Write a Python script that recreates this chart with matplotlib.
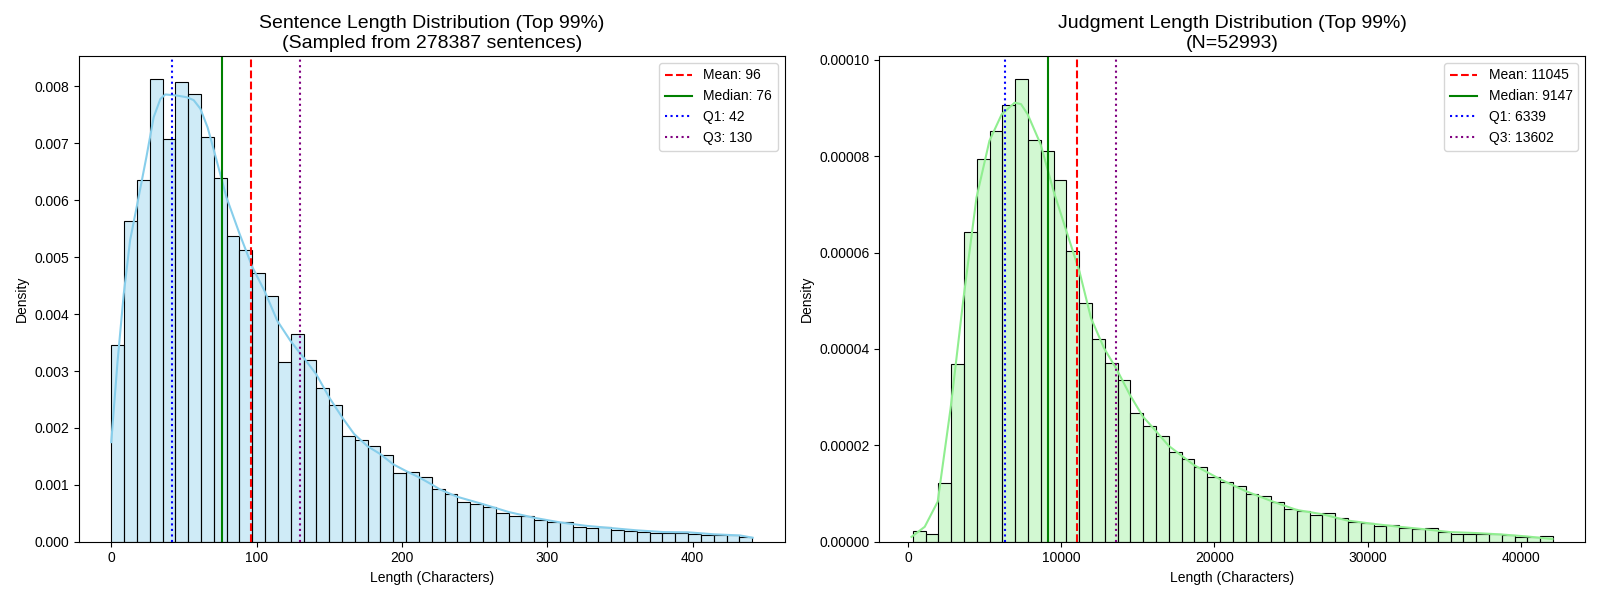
import numpy as np
import matplotlib
matplotlib.use("Agg")
import matplotlib.pyplot as plt
from matplotlib.colors import to_rgba

plt.rcParams['font.family'] = ['Liberation Sans', 'DejaVu Sans']

# sentence lengths: 50 bins between min and max (density values)
sent_min, sent_max = 0, 441
sent_density = [3.46, 5.64, 6.35, 8.13, 7.08, 8.07, 7.86, 7.12, 6.40, 5.38,
                5.13, 4.73, 4.32, 3.16, 3.65, 3.20, 2.70, 2.41, 1.86, 1.79,
                1.68, 1.53, 1.21, 1.23, 1.14, 0.93, 0.84, 0.70, 0.66, 0.61,
                0.50, 0.45, 0.45, 0.38, 0.34, 0.35, 0.26, 0.24, 0.26, 0.21,
                0.19, 0.17, 0.15, 0.15, 0.15, 0.13, 0.12, 0.12, 0.11, 0.08]
sent_kde_x = [0, 4.3, 8.6, 13, 17.5, 24.2, 29.2, 33.8, 37.2, 45.2, 52.1, 56.7,
              61.3, 66.3, 70.4, 79.3, 88.3, 97.2, 105.4, 114.3, 123.3, 132.2,
              141.1, 150.1, 159.0, 167.2, 176.2, 185.1, 194.0, 203.0, 211.9,
              220.2, 226.1, 238.0, 255.8, 273.7, 291.1, 308.7, 326.4, 343.8,
              361.6, 379.5, 396.9, 414.8, 432.6, 441.3]
sent_kde_y = [1.75, 3.15, 4.35, 5.30, 5.88, 6.76, 7.46, 7.78, 7.86, 7.84, 7.81,
              7.76, 7.61, 7.28, 6.90, 6.05, 5.41, 4.82, 4.41, 3.88, 3.53, 3.24,
              2.94, 2.53, 2.18, 1.89, 1.68, 1.54, 1.36, 1.24, 1.13, 1.01, 0.92,
              0.79, 0.66, 0.52, 0.42, 0.34, 0.28, 0.24, 0.20, 0.17, 0.165,
              0.13, 0.11, 0.07]
sent_stats = {"Mean": 96, "Median": 76, "Q1": 42, "Q3": 130}
sent_total = 278387

# judgment lengths
judg_min, judg_max = 300, 42100
judg_density = [0.23, 0.17, 1.21, 3.68, 6.42, 7.94, 8.52, 9.06, 9.60, 8.34,
                8.10, 7.51, 6.03, 4.95, 4.20, 3.70, 3.35, 2.68, 2.40, 2.20,
                1.86, 1.72, 1.55, 1.35, 1.24, 1.16, 0.99, 0.95, 0.82, 0.68,
                0.64, 0.56, 0.60, 0.49, 0.41, 0.38, 0.33, 0.35, 0.28, 0.26,
                0.28, 0.20, 0.17, 0.16, 0.17, 0.16, 0.13, 0.10, 0.10, 0.12]
judg_kde_x = [215, 1081, 1926, 2770, 3615, 4460, 5306, 6109, 6955, 7367, 7800,
              8645, 9490, 10336, 11181, 11938, 12783, 13628, 14473, 15319,
              16164, 17010, 18660, 20350, 22036, 23667, 25357, 27048, 28674,
              30364, 32055, 33680, 35371, 37061, 38752, 40378, 42069]
judg_kde_y = [0.10, 0.31, 0.83, 2.77, 5.06, 7.14, 8.32, 8.87, 9.11, 9.08, 8.87,
              8.25, 7.28, 6.44, 5.61, 4.64, 4.02, 3.57, 3.05, 2.60, 2.30, 1.99,
              1.59, 1.30, 1.05, 0.85, 0.66, 0.57, 0.44, 0.37, 0.31, 0.26, 0.20,
              0.18, 0.15, 0.11, 0.055]
judg_stats = {"Mean": 11045, "Median": 9147, "Q1": 6339, "Q3": 13602}
judg_total = 52993

line_styles = {"Mean": ("red", "--"), "Median": ("green", "-"),
               "Q1": ("blue", ":"), "Q3": ("purple", ":")}


def draw(ax, lo, hi, dens, scale, kx, ky, color, stats, title):
    edges = np.linspace(lo, hi, len(dens) + 1)
    d = np.array(dens) * scale
    ax.bar(edges[:-1], d, width=np.diff(edges), align="edge",
           facecolor=to_rgba(color, 0.4), edgecolor="black", linewidth=0.8)
    ax.plot(kx, np.array(ky) * scale, color=color, linewidth=1.5)
    for name, val in stats.items():
        c, ls = line_styles[name]
        ax.axvline(val, color=c, linestyle=ls, linewidth=1.5, label=f"{name}: {val}")
    ax.set_title(title, fontsize=14)
    ax.set_xlabel("Length (Characters)")
    ax.set_ylabel("Density")
    ax.legend(loc="upper right")


fig, axes = plt.subplots(1, 2, figsize=(16, 6))
draw(axes[0], sent_min, sent_max, sent_density, 1e-3, sent_kde_x, sent_kde_y,
     "skyblue", sent_stats,
     f"Sentence Length Distribution (Top 99%)\n(Sampled from {sent_total} sentences)")
draw(axes[1], judg_min, judg_max, judg_density, 1e-5, judg_kde_x, judg_kde_y,
     "lightgreen", judg_stats,
     f"Judgment Length Distribution (Top 99%)\n(N={judg_total})")
axes[1].yaxis.set_major_formatter(plt.FormatStrFormatter("%.5f"))

plt.tight_layout()
plt.savefig("out.png", dpi=100)
